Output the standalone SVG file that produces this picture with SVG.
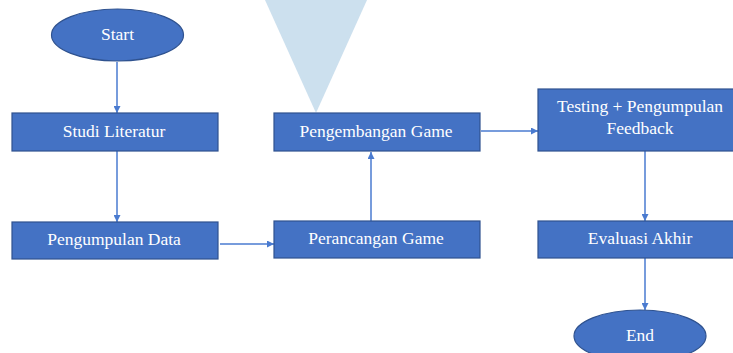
<svg xmlns="http://www.w3.org/2000/svg" width="733" height="353" viewBox="0 0 733 353">
<style>
.n{fill:#4472C4;stroke:#2F528F;stroke-width:1.2}
.t{fill:#fff;font-family:"Liberation Serif","Times New Roman",serif;font-size:17.5px;text-anchor:middle}
.c{stroke:#4A7BD0;stroke-width:1.5;fill:none;marker-end:url(#a)}
</style>
<defs>
<marker id="a" viewBox="0 0 10 10" refX="10" refY="5" markerWidth="7" markerHeight="7" markerUnits="userSpaceOnUse" orient="auto">
<path d="M0,0L10,5L0,10z" fill="#4A7BD0"/>
</marker>
</defs>
<rect width="733" height="353" fill="#fff"/>
<polygon points="265,0 367,0 316,113" fill="#CCE0EE"/>
<g id="connectors">
<line class="c" x1="117" y1="62" x2="117" y2="113"/>
<line class="c" x1="117" y1="151" x2="117" y2="222"/>
<line class="c" x1="220" y1="244" x2="274" y2="244"/>
<line class="c" x1="371" y1="221" x2="371" y2="152"/>
<line class="c" x1="481" y1="131" x2="538" y2="131"/>
<line class="c" x1="645" y1="151" x2="645" y2="221"/>
<line class="c" x1="645" y1="258" x2="645" y2="310"/>
</g>
<g id="start"><ellipse class="n" cx="117.5" cy="35" rx="66" ry="26"/><text class="t" x="117.5" y="40">Start</text></g>
<g id="studi"><rect class="n" x="12" y="113" width="206" height="38"/><text class="t" x="114" y="137">Studi Literatur</text></g>
<g id="pengumpulan"><rect class="n" x="12" y="222" width="206" height="37"/><text class="t" x="114" y="245">Pengumpulan Data</text></g>
<g id="perancangan"><rect class="n" x="274" y="221" width="206" height="37"/><text class="t" x="376" y="244">Perancangan Game</text></g>
<g id="pengembangan"><rect class="n" x="274" y="113" width="206" height="38"/><text class="t" x="376" y="137">Pengembangan Game</text></g>
<g id="testing"><rect class="n" x="538" y="89" width="200" height="62"/><text class="t" x="640" y="112">Testing + Pengumpulan</text><text class="t" x="640" y="134">Feedback</text></g>
<g id="evaluasi"><rect class="n" x="538" y="221" width="200" height="37"/><text class="t" x="640" y="244">Evaluasi Akhir</text></g>
<g id="end"><ellipse class="n" cx="640" cy="336" rx="66" ry="26"/><text class="t" x="640" y="341">End</text></g>
</svg>
